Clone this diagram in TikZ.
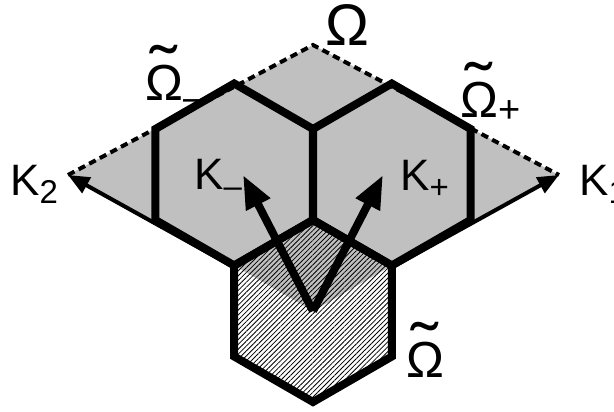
\documentclass[tikz,border=0pt]{standalone}
\usepackage{fontspec}
\setmainfont{Liberation Sans}
\usetikzlibrary{arrows.meta,patterns.meta}

\definecolor{cellgray}{RGB}{192,192,192}
% small raised or lowered index after a letter
\newcommand\idx[2]{\raisebox{#1}{\scalebox{0.75}{#2}}}
% Omega with a tilde set above it
\newcommand\tilOm{\ooalign{Ω\cr\hidewidth\raisebox{0.14em}{\scalebox{1.6}[1.3]{\char"02DC}}\hidewidth\cr}}

\tikzset{
  hexedge/.style={line width=6pt},
  kvec/.style={line width=6pt,-{Triangle[length=25pt,width=19pt]}},
  kaxis/.style={line width=3pt,-{Triangle[length=16pt,width=13pt]}},
  zoneedge/.style={line width=3pt,dash pattern=on 5.5pt off 3.5pt},
  lab/.style={anchor=base west,inner sep=0pt},
  klab/.style={lab,font=\fontsize{33}{33}\selectfont},
  olab/.style={lab,font=\fontsize{38}{38}\selectfont},
}

\begin{document}
\begin{tikzpicture}[x=0.75pt,y=-0.75pt]
  \useasboundingbox (0,0) rectangle (614,411);
  % centre of the lower cell and corners of the zone
  \coordinate (O) at (313,311);
  \coordinate (K2) at (68,175);
  \coordinate (K1) at (559,175);
  \coordinate (Top) at (313,45);
  \coordinate (Km) at (243,175);
  \coordinate (Kp) at (383,175);
  % hexagon centres
  \coordinate (hexB) at (313,311);
  \coordinate (hexL) at (234.2,174.5);
  \coordinate (hexR) at (391.8,174.5);
  % the zone, with its dashed upper edges
  \fill[cellgray] (K2) -- (Top) -- (K1) -- (O) -- cycle;
  \draw[zoneedge] (K2) -- (Top) -- (K1);
  \draw[kaxis] (O) -- (K2);
  \draw[kaxis] (O) -- (K1);
  % hatched lower cell, darker where it lies in the zone
  \fill[white] (hexB) +(30:91) -- +(90:91) -- +(150:91) -- +(210:91) -- +(270:91) -- +(330:91) -- cycle;
  \fill[cellgray] (hexB) +(210:91) -- +(270:91) -- +(330:91) -- (O) -- cycle;
  \fill[pattern={Lines[angle=45,distance=2.6pt,line width=0.6pt]}]
    (hexB) +(30:91) -- +(90:91) -- +(150:91) -- +(210:91) -- +(270:91) -- +(330:91) -- cycle;
  % cell outlines
  \foreach \c in {hexB,hexL,hexR}
    \draw[hexedge] (\c) +(30:91) -- +(90:91) -- +(150:91) -- +(210:91) -- +(270:91) -- +(330:91) -- cycle;
  \draw[kvec] (O) -- (Km);
  \draw[kvec] (O) -- (Kp);
  % labels
  \node[klab] (lK2) at (10,195) {K\idx{-0.19em}{2}};
  \node[klab] (lK1) at (579,195) {K\idx{-0.19em}{1}};
  \node[klab] (lKm) at (194,189) {K\idx{-0.2em}{–}};
  \node[klab] (lKp) at (400,190) {K\idx{-0.2em}{+}};
  \node[olab] (lOm) at (145,100) {\tilOm\idx{-0.2em}{–}};
  \node[olab] (lOp) at (460,117) {\tilOm\idx{-0.1em}{+}};
  \node[olab] (lOt) at (406,377) {\tilOm};
  \node[lab,font=\fontsize{44}{44}\selectfont] (lO) at (325,45) {Ω};
\end{tikzpicture}
\end{document}
